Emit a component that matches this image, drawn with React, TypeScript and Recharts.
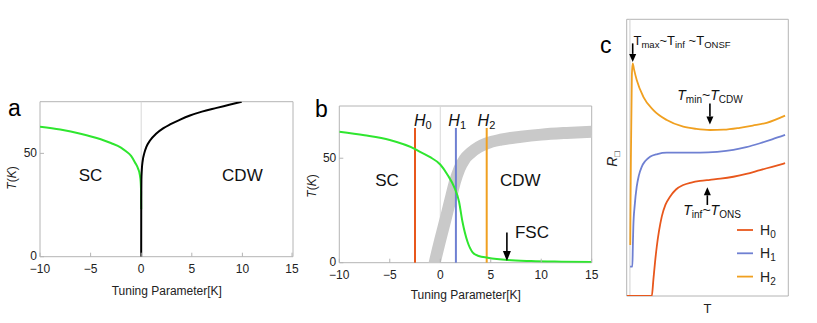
import React from 'react'
import {
  LineChart, Line, XAxis, YAxis, ReferenceLine, ReferenceArea, ReferenceDot, Legend,
} from 'recharts'

// panel a: SC dome and CDW line
const scX = [-10, -8, -6, -4, -3, -2, -1.5, -1, -0.6, -0.3, -0.15, -0.05, -0.01, 0]
const scT = [62.9, 61.5, 59.5, 56.8, 55, 52.8, 51, 48.8, 45.5, 42.5, 40, 36, 31, 23]
const cdwX = [0, 0.005, 0.02, 0.06, 0.15, 0.3, 0.5, 0.87, 1.5, 2.2, 2.85, 3.8, 4.82, 6, 7.46, 8.7, 9.93]
const cdwT = [0, 28, 37, 42, 46.5, 50, 53, 56.2, 59.6, 62.2, 64, 66.2, 68.3, 70.2, 72, 73.5, 75]

// panel b: fluctuating SC and broad CDW crossover
const fscX = [-10, -7.5, -5, -2.5, -1.9, -1, 0, 0.73, 1.36, 1.86, 2.2, 2.7, 3.2, 3.8, 4.7, 6.7, 9, 12, 15]
const fscT = [62.7, 61, 58.7, 54.4, 52.8, 50.5, 47, 42, 36.4, 29.2, 19.6, 10, 5, 3.2, 2.4, 1.3, 0.8, 0.5, 0.3]
const bandX = [-0.75, -0.55, 0, 0.63, 1.1, 1.46, 1.9, 2.4, 3, 3.8, 4.6, 6, 8, 10, 12.5, 15]
const bandT = [-4.3, 0, 11, 22.8, 32, 38.8, 45, 49.5, 52.5, 55.3, 57.1, 58.9, 60.3, 61.3, 62.1, 62.7]
const fieldX = [-2.5, 1.55, 4.6]
const fieldLabelX = [-2.6, 0.8, 3.7]
const fieldTop = 64.5
const fieldNames = ['H0', 'H1', 'H2']

// panel c: sheet resistance vs T (arbitrary units)
const h0X = [0, 15.5, 16.5, 17.5, 18.6, 20, 21.7, 24, 26.8, 30.5, 35, 40, 45.4, 51.5, 58, 66, 74, 82.5, 90, 98]
const h0R = [0, 0, 5.8, 12, 17.8, 23.5, 28.7, 33, 35.9, 38.5, 40.1, 41, 41.6, 42, 42.4, 43.1, 44.1, 45.5, 46.7, 48]
const h1X = [2.1, 3.5, 3.8, 4.1, 5, 6.2, 7.5, 9.3, 11.5, 14.4, 19, 24.8, 35, 45.4, 56, 66, 74, 82.5, 90, 98]
const h1R = [10.6, 10.6, 18, 25, 33, 39.5, 43.5, 46.7, 48.8, 50.3, 51.3, 51.8, 51.8, 51.8, 52.1, 52.8, 53.8, 55.2, 56.6, 58.2]
const h2X = [2.2, 2.6, 3.2, 3.7, 4.5, 6.2, 10.3, 16.5, 24.8, 35, 43, 51.5, 60, 70, 78, 86.6, 98]
const h2R = [18.4, 50, 80, 84.1, 82, 78.1, 72, 67.2, 63.6, 61.2, 60.4, 60, 60.1, 60.8, 61.6, 62.6, 65.2]

const xTicks = [-10, -5, 0, 5, 10, 15]
const yTicks = [0, 50]

const FRAME = '#b4b4b4'
const GREEN = '#2fe62f'
const FIELD_COLORS = ['#e8571c', '#6f80d2', '#f0a020']
const FONT = '"Liberation Sans", Arial, sans-serif'

const pts = (xs: number[], ys: number[]) => xs.map((x, i) => ({ x, v: ys[i] }))

const fmt = (v: number) => (v < 0 ? `\u2212${Math.abs(v)}` : `${v}`)

function XTick(props: any) {
  const { x, y, payload } = props
  return (
    <g>
      <line x1={x} y1={y} x2={x} y2={y - 4} stroke={FRAME} />
      <text x={x} y={y + 16.5} textAnchor="middle" fontSize={12} fill="#222">{fmt(payload.value)}</text>
    </g>
  )
}

function YTick(props: any) {
  const { x, y, payload } = props
  return (
    <g>
      <line x1={x} y1={y} x2={x + 4} y2={y} stroke={FRAME} />
      <text x={x - 3} y={y + 3.5} textAnchor="end" fontSize={12} fill="#222">{fmt(payload.value)}</text>
    </g>
  )
}

const arrow = (head: number, half: number) => (p: any) => {
  const { x1, y1, x2, y2 } = p
  const len = Math.hypot(x2 - x1, y2 - y1) || 1
  const ux = (x2 - x1) / len
  const uy = (y2 - y1) / len
  const bx = x2 - ux * head
  const by = y2 - uy * head
  return (
    <g>
      <line x1={x1} y1={y1} x2={bx} y2={by} stroke="#000" strokeWidth={1.6} />
      <polygon
        points={`${x2},${y2} ${bx - uy * half},${by + ux * half} ${bx + uy * half},${by - ux * half}`}
        fill="#000"
      />
    </g>
  )
}

const textAt = (render: (cx: number, cy: number) => React.ReactNode) => (p: any) => <g>{render(p.cx, p.cy)}</g>

const plain = (s: string, size = 17, anchor: 'start' | 'middle' = 'middle') =>
  textAt((cx, cy) => (
    <text x={cx} y={cy} textAnchor={anchor} fontSize={size} fill="#111">{s}</text>
  ))

function LegendBox(props: any) {
  const items = props.payload ?? []
  return (
    <svg width={70} height={66} style={{ display: 'block', overflow: 'visible' }}>
      {items.map((e: any, i: number) => (
        <g key={i} transform={`translate(0, ${8 + i * 23.3})`}>
          <line x1={0} x2={16} y1={0} y2={0} stroke={e.color} strokeWidth={1.8} />
          <text x={23} y={5} fontSize={14} fill="#222">
            H<tspan fontSize={10} dy={3}>{String(e.value).slice(1)}</tspan>
          </text>
        </g>
      ))}
    </svg>
  )
}

function PhaseA() {
  return (
    <LineChart width={300} height={323} margin={{ top: 101.7, right: 7, bottom: 36.3, left: 10 }}>
      <XAxis dataKey="x" type="number" domain={[-10, 15]} ticks={xTicks} allowDataOverflow
        axisLine={false} tickLine={false} tickSize={0} tickMargin={0} height={30} tick={<XTick />} />
      <YAxis type="number" domain={[0, 75]} ticks={yTicks} allowDataOverflow
        axisLine={false} tickLine={false} tickSize={0} tickMargin={0} width={30} tick={<YTick />} />
      <ReferenceArea x1={-10} x2={15} y1={0} y2={75} fill="none" stroke={FRAME} strokeWidth={1} />
      <ReferenceLine x={0} stroke="#d8d8d8" strokeWidth={1} />
      <Line data={pts(scX, scT)} dataKey="v" type="monotone" stroke={GREEN} strokeWidth={2}
        dot={false} isAnimationActive={false} />
      <Line data={pts(cdwX, cdwT)} dataKey="v" type="monotone" stroke="#000" strokeWidth={2}
        dot={false} isAnimationActive={false} />
      <ReferenceDot x={-5} y={36.6} r={0} shape={plain('SC')} />
      <ReferenceDot x={10} y={36.6} r={0} shape={plain('CDW')} />
    </LineChart>
  )
}

function PhaseB() {
  return (
    <LineChart width={300} height={323} margin={{ top: 106, right: 8.3, bottom: 30.3, left: 9.3 }}>
      <XAxis dataKey="x" type="number" domain={[-10, 15]} ticks={xTicks} allowDataOverflow
        axisLine={false} tickLine={false} tickSize={0} tickMargin={0} height={30} tick={<XTick />} />
      <YAxis type="number" domain={[0, 75]} ticks={yTicks} allowDataOverflow
        axisLine={false} tickLine={false} tickSize={0} tickMargin={0} width={30} tick={<YTick />} />
      <ReferenceArea x1={-10} x2={15} y1={0} y2={75} fill="none" stroke={FRAME} strokeWidth={1} />
      <ReferenceLine x={0} stroke="#d8d8d8" strokeWidth={1} />
      <Line data={pts(bandX, bandT)} dataKey="v" type="monotone" stroke="#c9c9c9" strokeWidth={12}
        dot={false} isAnimationActive={false} />
      {fieldX.map((fx, i) => (
        <ReferenceLine key={fieldNames[i]} segment={[{ x: fx, y: 0 }, { x: fx, y: fieldTop }]}
          stroke={FIELD_COLORS[i]} strokeWidth={2} />
      ))}
      <Line data={pts(fscX, fscT)} dataKey="v" type="monotone" stroke={GREEN} strokeWidth={2}
        dot={false} isAnimationActive={false} />
      {fieldNames.map((n, i) => (
        <ReferenceDot key={n} x={fieldLabelX[i]} y={65.6} r={0}
          shape={textAt((cx, cy) => (
            <text x={cx} y={cy} fontSize={16} fill="#111">
              <tspan fontStyle="italic">H</tspan><tspan fontSize={11} dy={3}>{n.slice(1)}</tspan>
            </text>
          ))} />
      ))}
      <ReferenceDot x={-5.28} y={36.7} r={0} shape={plain('SC')} />
      <ReferenceDot x={7.92} y={36.7} r={0} shape={plain('CDW')} />
      <ReferenceDot x={7.4} y={11.7} r={0} shape={plain('FSC', 17, 'start')} />
      <ReferenceLine segment={[{ x: 6.6, y: 14.5 }, { x: 6.6, y: 0.8 }]} shape={arrow(10, 4)} />
    </LineChart>
  )
}

function Resistance() {
  const series = [pts(h0X, h0R), pts(h1X, h1R), pts(h2X, h2R)]
  return (
    <LineChart width={217} height={323} margin={{ top: 19.3, right: 28.7, bottom: 27, left: 26.7 }}>
      <XAxis dataKey="x" type="number" domain={[0, 100]} hide allowDataOverflow />
      <YAxis type="number" domain={[0, 100]} hide allowDataOverflow />
      <ReferenceArea x1={0} x2={100} y1={0} y2={100} fill="none" stroke={FRAME} strokeWidth={1} />
      <ReferenceLine x={2} stroke="#d0d0d0" strokeWidth={1} />
      {series.map((d, i) => (
        <Line key={fieldNames[i]} name={fieldNames[i]} data={d} dataKey="v" type="monotone"
          stroke={FIELD_COLORS[i]} strokeWidth={1.8} dot={false} isAnimationActive={false} />
      ))}
      <ReferenceLine segment={[{ x: 3.7, y: 91.3 }, { x: 3.7, y: 84.6 }]} shape={arrow(8, 3.5)} />
      <ReferenceLine segment={[{ x: 51.5, y: 69.6 }, { x: 51.5, y: 62 }]} shape={arrow(8, 3.5)} />
      <ReferenceLine segment={[{ x: 49.9, y: 32.9 }, { x: 49.9, y: 39.3 }]} shape={arrow(8, 3.5)} />
      <ReferenceDot x={4.2} y={90.7} r={0} shape={textAt((cx, cy) => (
        <text x={cx} y={cy} fontSize={13} fill="#111">
          T<tspan fontSize={9.5} dy={3}>max</tspan><tspan dy={-3}>~T</tspan>
          <tspan fontSize={9.5} dy={3}>inf</tspan><tspan dy={-3}> ~T</tspan>
          <tspan fontSize={9.5} dy={3}>ONSF</tspan>
        </text>
      ))} />
      <ReferenceDot x={31.3} y={70.8} r={0} shape={textAt((cx, cy) => (
        <text x={cx} y={cy} fontSize={14} fill="#111">
          <tspan fontStyle="italic">T</tspan><tspan fontSize={10} dy={3}>min</tspan>
          <tspan dy={-3}>~</tspan><tspan fontStyle="italic">T</tspan>
          <tspan fontSize={10} dy={3}>CDW</tspan>
        </text>
      ))} />
      <ReferenceDot x={35} y={29.3} r={0} shape={textAt((cx, cy) => (
        <text x={cx} y={cy} fontSize={14} fill="#111">
          <tspan fontStyle="italic">T</tspan><tspan fontSize={10} dy={3}>inf</tspan>
          <tspan dy={-3}>~</tspan><tspan fontStyle="italic">T</tspan>
          <tspan fontSize={10} dy={3}>ONS</tspan>
        </text>
      ))} />
      <Legend layout="horizontal" align="center" verticalAlign="middle" content={<LegendBox />}
        wrapperStyle={{ position: 'absolute', left: 136.7, top: 222, width: 70, height: 66 }} />
    </LineChart>
  )
}

export default function App() {
  return (
    <div style={{ position: 'absolute', left: 0, top: 0, width: 817, height: 323, background: '#fff', fontFamily: FONT }}>
      <div style={{ position: 'absolute', left: 0, top: 0 }}><PhaseA /></div>
      <div style={{ position: 'absolute', left: 300, top: 0 }}><PhaseB /></div>
      <div style={{ position: 'absolute', left: 600, top: 0 }}><Resistance /></div>
      <svg width={817} height={323} style={{ position: 'absolute', left: 0, top: 0, pointerEvents: 'none' }}>
        <text x={8} y={116} fontSize={23} fill="#000">a</text>
        <text x={315} y={116.7} fontSize={23} fill="#000">b</text>
        <text x={600} y={52.7} fontSize={23} fill="#000">c</text>
        <text x={166.8} y={294.5} fontSize={12} textAnchor="middle" fill="#222">Tuning Parameter[K]</text>
        <text x={465.8} y={299} fontSize={12} textAnchor="middle" fill="#222">Tuning Parameter[K]</text>
        <text x={16} y={178} fontSize={12} textAnchor="middle" fill="#222" transform="rotate(-90 16 178)">
          <tspan fontStyle="italic">T</tspan>(<tspan fontStyle="italic">K</tspan>)
        </text>
        <text x={316} y={186} fontSize={12} textAnchor="middle" fill="#222" transform="rotate(-90 316 186)">
          <tspan fontStyle="italic">T</tspan>(<tspan fontStyle="italic">K</tspan>)
        </text>
        <text x={707.5} y={313} fontSize={13} textAnchor="middle" fill="#222">T</text>
        <text x={617} y={159} fontSize={14} textAnchor="middle" fill="#222" transform="rotate(-90 617 159)">
          <tspan fontStyle="italic">R</tspan><tspan fontSize={9} dy={3}>{'\u25A1'}</tspan>
        </text>
      </svg>
    </div>
  )
}
